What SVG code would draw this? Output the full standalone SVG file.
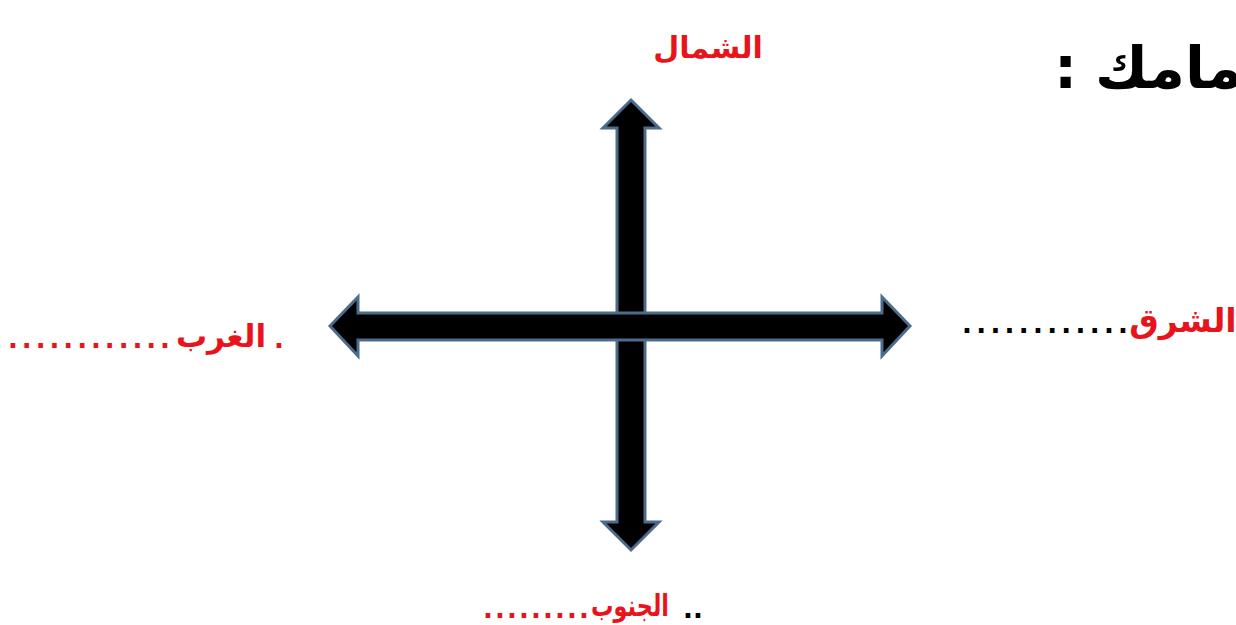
<svg xmlns="http://www.w3.org/2000/svg" width="1236" height="625" viewBox="0 0 1236 625">
<style>
.arrow{fill:#000;stroke:#4d6c8c;stroke-width:3;stroke-linejoin:miter}
.red{fill:#e8141c;font-family:"DejaVu Sans",sans-serif;font-weight:bold}
.dots{font-family:"DejaVu Sans",sans-serif;font-weight:bold;font-size:26px}
.title{fill:#000;font-family:"DejaVu Sans",sans-serif;font-weight:bold;font-size:58px}
</style>
<rect width="1236" height="625" fill="#fff"/>
<g id="connectors">
<path class="arrow" d="M631,100 L659,128 L645,128 L645,522 L659,522 L631,550 L603,522 L617,522 L617,128 L603,128 Z"/>
<path class="arrow" d="M330,326 L358,297 L358,313 L882,313 L882,297 L910,326 L882,356 L882,340 L358,340 L358,356 Z"/>
</g>
<g id="title"><text class="title" x="1054" y="88">:</text><text class="title" x="1095" y="88">مامك</text></g>
<g id="north"><text class="red" x="708" y="58" font-size="30" text-anchor="middle">الشمال</text></g>
<g id="west"><text class="dots" x="8" y="348" fill="#e8141c" textLength="162" lengthAdjust="spacing">............</text><text class="red" x="221" y="347" font-size="31" text-anchor="middle">الغرب</text><text class="dots" x="274" y="348" fill="#e8141c">.</text></g>
<g id="east"><text class="dots" x="962" y="333" fill="#000" textLength="166" lengthAdjust="spacing">............</text><text class="red" x="1183" y="332" font-size="33" text-anchor="middle">الشرق</text></g>
<g id="south"><text class="dots" x="483" y="618" fill="#e8141c" textLength="106" lengthAdjust="spacing">.........</text><text class="red" x="591" y="616" font-size="30" textLength="78" lengthAdjust="spacingAndGlyphs">الجنوب</text><text class="dots" x="683" y="618" fill="#000">..</text></g>
</svg>
